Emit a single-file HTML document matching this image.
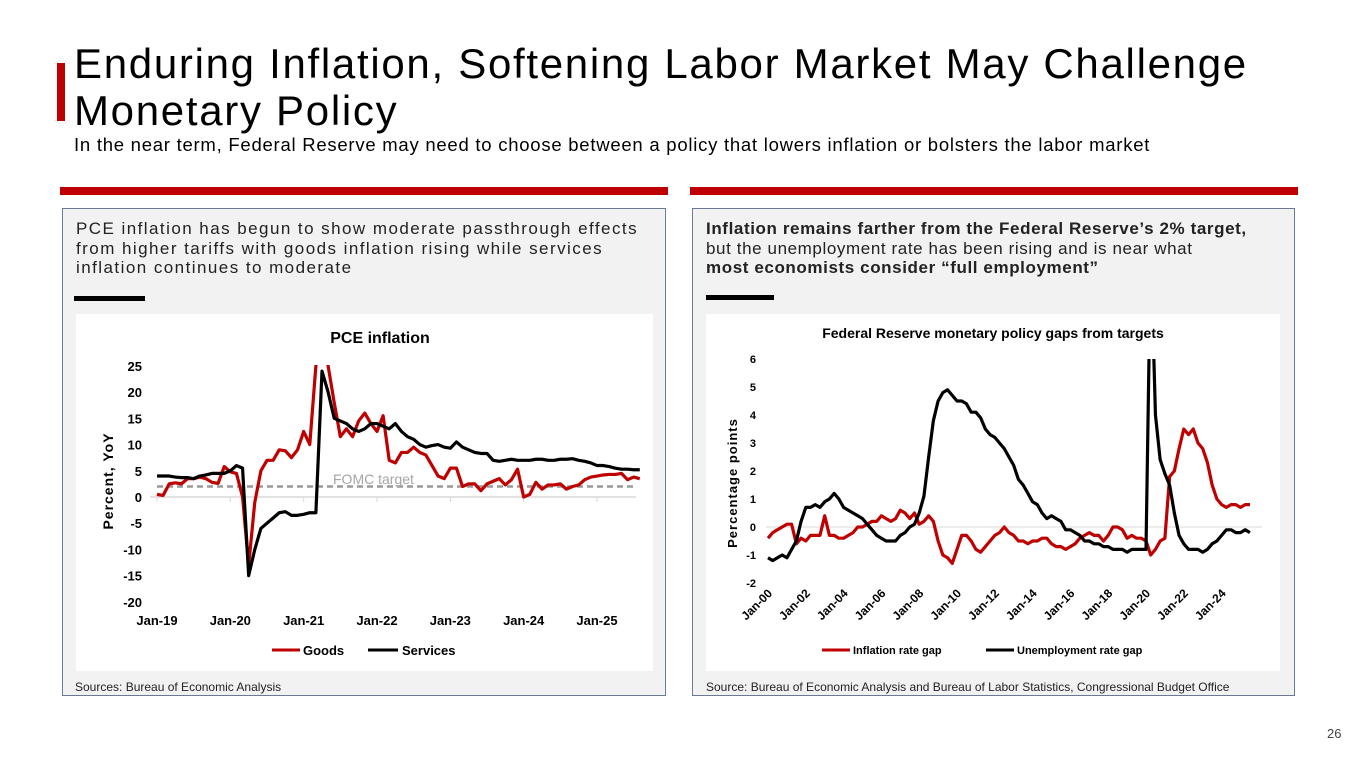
<!DOCTYPE html>
<html><head><meta charset="utf-8">
<style>
body{margin:0;width:1365px;height:768px;background:#fff;font-family:"Liberation Sans",sans-serif;position:relative;overflow:hidden}
.abs{position:absolute}
.title{left:74px;top:40px;font-size:42px;line-height:47px;color:#000;letter-spacing:1.7px;margin:0;font-weight:normal;white-space:nowrap}
.sub{left:74px;top:134px;font-size:18.5px;letter-spacing:0.75px;color:#000;white-space:nowrap}
.panel{background:#f2f2f2;border:1px solid #6b7a94;box-sizing:border-box}
.ptext{font-size:17px;line-height:19.5px;color:#222;white-space:nowrap}
svg text{font-family:"Liberation Sans",sans-serif}
</style></head><body>
<div class="abs" style="left:57px;top:63px;width:8px;height:58px;background:#c00000"></div>
<h1 class="abs title">Enduring Inflation, Softening Labor Market May Challenge<br>Monetary Policy</h1>
<div class="abs sub">In the near term, Federal Reserve may need to choose between a policy that lowers inflation or bolsters the labor market</div>
<div class="abs" style="left:60px;top:187px;width:608px;height:8px;background:#c00000"></div>
<div class="abs" style="left:690px;top:187px;width:608px;height:8px;background:#c00000"></div>

<div class="abs panel" style="left:62px;top:208px;width:604px;height:488px"></div>
<div class="abs ptext" style="left:76px;top:219px;letter-spacing:1.45px">PCE inflation has begun to show moderate passthrough effects<br>from higher tariffs with goods inflation rising while services<br>inflation continues to moderate</div>
<div class="abs" style="left:74px;top:296px;width:71px;height:5px;background:#000"></div>
<div class="abs" style="left:75px;top:680px;font-size:12px;color:#222">Sources: Bureau of Economic Analysis</div>

<div class="abs panel" style="left:692px;top:208px;width:603px;height:488px"></div>
<div class="abs ptext" style="left:706px;top:219px;letter-spacing:0.6px"><b>Inflation remains farther from the Federal Reserve’s 2% target,</b><br>but the unemployment rate has been rising and is near what<br><b>most economists consider “full employment”</b></div>
<div class="abs" style="left:706px;top:295px;width:68px;height:5px;background:#000"></div>
<div class="abs" style="left:706px;top:680px;font-size:12px;color:#222">Source: Bureau of Economic Analysis and Bureau of Labor Statistics, Congressional Budget Office</div>
<div class="abs" style="left:1327px;top:726px;font-size:13px;color:#444">26</div>

<svg class="abs" style="left:0;top:0" width="1365" height="768" id="charts">
<rect x="76" y="314" width="577" height="357" fill="#fff"/>
<rect x="706" y="314" width="574" height="357" fill="#fff"/>
<defs>
<clipPath id="cl"><rect x="150" y="365" width="500" height="240"/></clipPath>
<clipPath id="cr"><rect x="760" y="359" width="510" height="226"/></clipPath>
</defs>
<g id="L"></g><g id="R"></g>
</svg>
<script>
// ---- Left chart data (monthly Jan-19 .. Aug-25)
const pceGoods=[0.5,0.3,2.5,2.7,2.5,3.5,3.5,3.8,3.5,2.8,2.6,5.8,
4.8,4.5,0,-13,-1,5,7,7,9,8.8,7.5,9,
12.5,10,25,30,25,18,11.5,13,11.5,14.5,16,14,
12.5,15.5,7,6.5,8.5,8.5,9.5,8.5,8,6,4,3.5,
5.5,5.5,2,2.5,2.5,1.2,2.5,3,3.5,2.3,3.3,5.3,
0,0.5,2.8,1.5,2.3,2.3,2.5,1.5,2,2.3,3.3,3.8,
4,4.2,4.3,4.3,4.5,3.3,3.8,3.5];
const pceServices=[4,4,4,3.8,3.7,3.7,3.5,4,4.2,4.5,4.5,4.5,
5,6,5.5,-15,-10,-6,-5,-4,-3,-2.8,-3.5,-3.5,
-3.3,-3,-3,24,20,15,14.5,14,13,12.5,13,14,
14,13.5,13,14,12.5,11.5,11,10,9.5,9.8,10,9.5,
9.3,10.5,9.5,9,8.5,8.3,8.3,7,6.8,7,7.2,7,
7,7,7.2,7.2,7,7,7.2,7.2,7.3,7,6.8,6.5,
6,6,5.8,5.5,5.3,5.3,5.2,5.2];
const leftYTicks=[25,20,15,10,5,0,-5,-10,-15,-20];
const leftXLabels=["Jan-19","Jan-20","Jan-21","Jan-22","Jan-23","Jan-24","Jan-25"];
const fomcTarget=2;
// ---- Right chart data (quarterly 2000Q1 .. 2025Q3)
const inflGap=[-0.4,-0.2,-0.1,0.0, 0.1,0.1,-0.6,-0.4, -0.5,-0.3,-0.3,-0.3, 0.4,-0.3,-0.3,-0.4,
-0.4,-0.3,-0.2,0.0, 0.0,0.1,0.2,0.2, 0.4,0.3,0.2,0.3, 0.6,0.5,0.3,0.5, 0.1,0.2,0.4,0.2,
-0.5,-1.0,-1.1,-1.3, -0.8,-0.3,-0.3,-0.5, -0.8,-0.9,-0.7,-0.5, -0.3,-0.2,0.0,-0.2,
-0.3,-0.5,-0.5,-0.6, -0.5,-0.5,-0.4,-0.4, -0.6,-0.7,-0.7,-0.8, -0.7,-0.6,-0.4,-0.3,
-0.2,-0.3,-0.3,-0.5, -0.3,0.0,0.0,-0.1, -0.4,-0.3,-0.4,-0.4, -0.5,-1.0,-0.8,-0.5,
-0.4,1.8,2.0,2.8, 3.5,3.3,3.5,3.0, 2.8,2.3,1.5,1.0, 0.8,0.7,0.8,0.8, 0.7,0.8,0.8];
const unempGap=[-1.1,-1.2,-1.1,-1.0, -1.1,-0.8,-0.5,0.2, 0.7,0.7,0.8,0.7, 0.9,1.0,1.2,1.0,
0.7,0.6,0.5,0.4, 0.3,0.1,-0.1,-0.3, -0.4,-0.5,-0.5,-0.5, -0.3,-0.2,0.0,0.1, 0.5,1.1,2.5,3.8,
4.5,4.8,4.9,4.7, 4.5,4.5,4.4,4.1, 4.1,3.9,3.5,3.3, 3.2,3.0,2.8,2.5,
2.2,1.7,1.5,1.2, 0.9,0.8,0.5,0.3, 0.4,0.3,0.2,-0.1, -0.1,-0.2,-0.3,-0.5,
-0.5,-0.6,-0.6,-0.7, -0.7,-0.8,-0.8,-0.8, -0.9,-0.8,-0.8,-0.8, -0.8,10,4,2.4,
1.9,1.5,0.5,-0.3, -0.6,-0.8,-0.8,-0.8, -0.9,-0.8,-0.6,-0.5, -0.3,-0.1,-0.1,-0.2, -0.2,-0.1,-0.2];
const rightYTicks=[6,5,4,3,2,1,0,-1,-2];
const rightXLabels=["Jan-00","Jan-02","Jan-04","Jan-06","Jan-08","Jan-10","Jan-12","Jan-14","Jan-16","Jan-18","Jan-20","Jan-22","Jan-24"];

const NS="http://www.w3.org/2000/svg";
function mk(parent,tag,attrs,text){const e=document.createElementNS(NS,tag);for(const k in attrs)e.setAttribute(k,attrs[k]);if(text!==undefined)e.textContent=text;parent.appendChild(e);return e;}

// Left chart
const L=document.getElementById('L');
const lx=m=>157+m*(440/72);
const ly=v=>497-v*(236/45);
let t=mk(L,'text',{x:380,y:343,'text-anchor':'middle','font-size':16,'font-weight':'bold'},'PCE inflation');


leftYTicks.forEach(v=>{const e=mk(L,'text',{x:142,y:ly(v)+5,'text-anchor':'end','font-size':13,'font-weight':'bold'},String(v));

});
leftXLabels.forEach((s,i)=>{const e=mk(L,'text',{x:lx(i*12),y:625,'text-anchor':'middle','font-size':13,'font-weight':'bold'},s);

});
t=mk(L,'text',{x:113,y:481,'text-anchor':'middle','font-size':14,'font-weight':'bold',transform:'rotate(-90 113 481)','letter-spacing':'1'},'Percent, YoY');


let ax=mk(L,'line',{x1:150,x2:636,y1:ly(0),y2:ly(0),stroke:'#d9d9d9','stroke-width':1.5});


leftXLabels.forEach((s,i)=>{const e=mk(L,'line',{x1:lx(i*12),x2:lx(i*12),y1:ly(0),y2:ly(0)+5,stroke:'#d9d9d9'});

});
let f=mk(L,'line',{x1:157,x2:636,y1:ly(fomcTarget),y2:ly(fomcTarget),stroke:'#999','stroke-width':2.5,'stroke-dasharray':'6 4'});


t=mk(L,'text',{x:333,y:484,'font-size':14,fill:'#a6a6a6'},'FOMC target');


function poly(g,arr,xf,yf,col,clip,name){const p=mk(g,'polyline',{points:arr.map((v,i)=>xf(i)+','+yf(v)).join(' '),fill:'none',stroke:col,'stroke-width':3.2,'stroke-linejoin':'round','clip-path':'url(#'+clip+')'});

}
poly(L,pceGoods,lx,ly,'#c00000','cl','goods-line');
poly(L,pceServices,lx,ly,'#000','cl','services-line');
let lg=mk(L,'line',{x1:272,x2:300,y1:650,y2:650,stroke:'#c00000','stroke-width':3});


t=mk(L,'text',{x:303,y:655,'font-size':13,'font-weight':'bold'},'Goods');


lg=mk(L,'line',{x1:368,x2:398,y1:650,y2:650,stroke:'#000','stroke-width':3});


t=mk(L,'text',{x:402,y:655,'font-size':13,'font-weight':'bold'},'Services');



// Right chart
const R=document.getElementById('R');
const rx=q=>768+q*(18.9/4);
const ry=v=>527-v*28;
t=mk(R,'text',{x:993,y:338,'text-anchor':'middle','font-size':14,'font-weight':'bold'},'Federal Reserve monetary policy gaps from targets');


rightYTicks.forEach(v=>{const e=mk(R,'text',{x:756,y:ry(v)+4,'text-anchor':'end','font-size':11,'font-weight':'bold'},String(v));

});
t=mk(R,'text',{x:737,y:483,'text-anchor':'middle','font-size':13,'font-weight':'bold',transform:'rotate(-90 737 483)','letter-spacing':'1'},'Percentage points');


ax=mk(R,'line',{x1:766,x2:1262,y1:ry(0),y2:ry(0),stroke:'#d9d9d9','stroke-width':1});


rightXLabels.forEach((s,i)=>{const x=rx(i*8);const e=mk(R,'text',{x:x+5,y:594,'text-anchor':'end','font-size':12,'font-weight':'bold',transform:'rotate(-45 '+(x+5)+' 594)'},s);

});
poly(R,inflGap,rx,ry,'#c00000','cr','inflation-gap-line');
poly(R,unempGap,rx,ry,'#000','cr','unemployment-gap-line');
lg=mk(R,'line',{x1:822,x2:850,y1:650,y2:650,stroke:'#c00000','stroke-width':3});


t=mk(R,'text',{x:853,y:654,'font-size':11,'font-weight':'bold'},'Inflation rate gap');


lg=mk(R,'line',{x1:986,x2:1014,y1:650,y2:650,stroke:'#000','stroke-width':3});


t=mk(R,'text',{x:1017,y:654,'font-size':11,'font-weight':'bold'},'Unemployment rate gap');


</script>
</body></html>
